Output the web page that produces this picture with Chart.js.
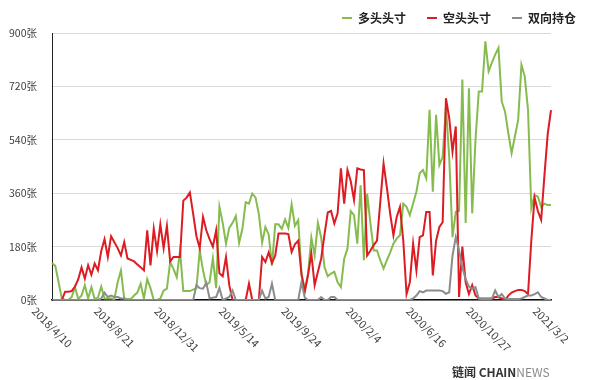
<!DOCTYPE html>
<html><head><meta charset="utf-8">
<script src="https://cdn.jsdelivr.net/npm/chart.js@4.4.1/dist/chart.umd.min.js"></script>
<style>
html,body{margin:0;padding:0;background:#fff;}
#wrap{position:relative;width:600px;height:380px;overflow:hidden;background:#fff;}
#logo{position:absolute;left:452px;top:365px;font:bold 12px 'Noto Sans CJK SC';color:#333;white-space:nowrap;line-height:14px;}
#logo span{font-weight:normal;color:#8a8a8a;}
</style></head><body>
<div id="wrap"><canvas id="c" width="600" height="380"></canvas>
<div id="logo">链闻 CHAIN<span>NEWS</span></div></div>
<script>
// x tick labels (every 19th weekly point)
const tickLabels = ["2018/4/10","2018/8/21","2018/12/31","2019/5/14","2019/9/24","2020/2/4","2020/6/16","2020/10/27","2021/3/2"];
const tickStep = 19;
const seriesNames = ["多头头寸","空头头寸","双向持仓"];
const yTicks = [0,180,360,540,720,900];

const longPos = [
125,115,60,5,0,0,10,43,3,15,
50,5,43,3,8,45,5,5,5,3,
60,100,5,3,3,15,25,55,5,70,
40,0,0,5,32,38,128,105,77,165,
30,30,30,35,40,167,100,50,60,140,
40,314,260,190,243,260,283,193,240,330,
325,359,345,290,193,246,221,116,255,255,
240,272,243,322,250,269,90,35,89,210,
150,260,210,111,80,89,95,60,43,139,
173,300,286,190,387,134,359,258,167,167,
134,106,134,160,190,207,218,325,314,286,
325,365,427,438,410,641,365,624,455,483,
652,480,212,297,300,743,260,714,292,540,
703,703,872,771,800,827,850,669,635,562,
495,551,607,793,754,641,309,354,348,314,
325,320,320];

const shortPos = [
0,0,0,0,28,28,30,45,70,110,
72,117,85,123,100,165,205,145,215,195,
175,150,195,140,135,130,120,110,100,235,
117,240,165,255,175,250,130,145,145,145,
335,345,362,290,215,175,280,235,205,180,
235,90,80,145,50,0,0,0,0,0,
55,0,0,0,145,128,160,125,150,224,
224,224,222,162,188,200,85,28,85,156,
50,95,140,220,295,300,258,292,444,325,
438,400,337,444,440,438,150,167,185,200,
330,460,380,292,218,280,314,200,20,60,
190,100,212,218,297,297,83,200,246,262,
680,613,500,585,10,180,60,20,50,15,
5,5,5,5,5,10,10,5,0,15,
25,30,34,34,30,20,200,345,300,270,
420,560,640];

const bothPos = [
0,0,0,0,0,0,0,0,0,0,
0,0,0,0,0,5,25,10,15,10,
10,5,5,0,0,0,0,0,0,0,
0,0,0,0,0,0,0,0,0,0,
0,0,0,0,50,40,38,58,5,8,
10,40,0,5,10,32,0,0,0,0,
0,0,0,0,32,5,10,55,0,0,
0,0,0,0,0,0,60,8,0,0,
0,0,10,0,0,10,10,0,0,0,
0,0,0,0,0,0,0,0,0,0,
0,0,0,0,0,0,0,0,0,0,
5,15,30,26,32,32,32,32,32,30,
21,26,150,212,167,110,70,45,38,43,
5,3,3,3,5,32,10,20,5,3,
3,3,3,5,10,15,15,20,26,10,
5,0,0];

const categories = longPos.map((_, i) => (i % tickStep === 0 && tickLabels[i / tickStep]) ? tickLabels[i / tickStep] : String(i));

Chart.defaults.font.family = "'Noto Sans CJK SC','Noto Sans',sans-serif";

const xLabelPlugin = {
  id: 'xlabels',
  afterDraw(chart) {
    const ctx = chart.ctx, xs = chart.scales.x, base = chart.chartArea.bottom;
    ctx.save();
    ctx.font = "11px 'Noto Sans CJK SC'";
    ctx.fillStyle = '#404040';
    ctx.textAlign = 'center';
    ctx.textBaseline = 'middle';
    tickLabels.forEach((t, k) => {
      const x = xs.getPixelForValue(k * tickStep);
      const w = ctx.measureText(t).width;
      const d = 9 + w * 0.354;
      ctx.save();
      ctx.translate(x, base + d);
      ctx.rotate(Math.PI / 4);
      ctx.fillText(t, 0, 0);
      ctx.restore();
    });
    ctx.restore();
  }
};

const legendPlugin = {
  id: 'mylegend',
  afterDraw(chart) {
    const ctx = chart.ctx;
    ctx.save();
    ctx.font = "bold 12px 'Noto Sans CJK SC'";
    ctx.textBaseline = 'middle';
    ctx.textAlign = 'left';
    let x = 342;
    const y = 18;
    chart.data.datasets.forEach(ds => {
      ctx.strokeStyle = ds.borderColor;
      ctx.lineWidth = 2;
      ctx.beginPath(); ctx.moveTo(x, y); ctx.lineTo(x + 10, y); ctx.stroke();
      ctx.fillStyle = '#222';
      ctx.fillText(ds.label, x + 16, y);
      x += 16 + ctx.measureText(ds.label).width + 21;
    });
    ctx.restore();
  }
};

new Chart(document.getElementById('c'), {
  type: 'line',
  data: {
    labels: categories,
    datasets: [
      {label: seriesNames[0], data: longPos, borderColor: '#86bc4f', borderWidth: 2, pointRadius: 0, tension: 0, order: 2, fill: false},
      {label: seriesNames[1], data: shortPos, borderColor: '#dc1c22', borderWidth: 2, pointRadius: 0, tension: 0, order: 1, fill: false},
      {label: seriesNames[2], data: bothPos, borderColor: '#8c8c8c', borderWidth: 2, pointRadius: 0, tension: 0, order: 0, fill: false}
    ]
  },
  options: {
    responsive: false,
    animation: false,
    layout: {padding: {left: 6, right: 49, top: 33, bottom: 0}},
    plugins: {legend: {display: false}, tooltip: {enabled: false}},
    scales: {
      x: {
        grid: {display: false},
        border: {display: true, color: '#111', width: 1.5},
        ticks: {display: false},
        afterFit(s) { s.height = 80; }
      },
      y: {
        min: 0, max: 900,
        afterBuildTicks(s) { s.ticks = yTicks.map(v => ({value: v})); },
        ticks: {callback: v => v + '张', color: '#404040', font: {size: 10.5}, padding: 15},
        grid: {color: '#d9d9d9', drawTicks: false, lineWidth: 1},
        border: {display: true, color: '#222', width: 1},
        afterFit(s) { s.width = 46; }
      }
    }
  },
  plugins: [xLabelPlugin, legendPlugin]
});
</script>
</body></html>
